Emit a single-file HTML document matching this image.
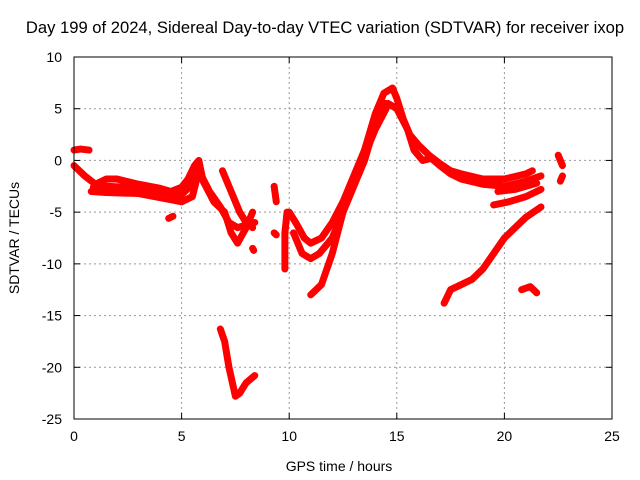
<!DOCTYPE html>
<html><head><meta charset="utf-8"><style>
body{margin:0;background:#fff}
svg{display:block;font-family:"Liberation Sans",sans-serif;font-size:14px}
</style></head><body>
<svg id="chart" width="640" height="480">
<text x="325" y="33" text-anchor="middle" style="font-size:16.6px">Day 199 of 2024, Sidereal Day-to-day VTEC variation (SDTVAR) for receiver ixop</text>
<text x="339" y="471" text-anchor="middle">GPS time / hours</text>
<text transform="translate(19,238) rotate(-90)" text-anchor="middle">SDTVAR / TECUs</text>
<g id="grid"></g>
<g id="series"></g>
<rect x="74" y="57" width="538" height="362" fill="none" stroke="#000"/>
<g id="ticks"></g>
</svg>
<script>
const xTicks=[0,5,10,15,20,25];
const yTicks=[10,5,0,-5,-10,-15,-20,-25];
const trackA=[[0,1],[0.3,1.1],[0.7,1]];
const trackB=[[0,-0.5],[0.5,-1.5],[1,-2.3],[1.5,-1.8],[2,-1.8],[3,-2.3],[4,-2.7],[4.5,-3],[5,-2.6],[5.3,-1.8],[5.6,-0.5],[5.8,0],[6,-2],[6.5,-4],[7,-5],[7.3,-7],[7.6,-8],[8,-6.5],[8.3,-5]];
const trackB3=[[0.9,-2.6],[1.5,-2.5],[2.5,-2.6],[3.5,-2.9],[4.5,-3.3],[5,-3.3],[5.4,-2.5],[5.7,-1.5]];
const trackB2=[[0.8,-3],[1.5,-3.1],[3,-3.2],[4.5,-3.8],[5,-4],[5.5,-3.5],[5.8,-1],[6.3,-3],[6.8,-4.5],[7.2,-6],[7.6,-6.5],[8.4,-6]];
const trackC=[[6.9,-1],[7.3,-3],[7.7,-5],[8,-6],[8.3,-6.5]];
const trackLow=[[6.8,-16.3],[7,-17.5],[7.2,-20],[7.5,-22.8],[7.7,-22.5],[8,-21.5],[8.4,-20.8]];
const trackD=[[10,-5],[10.3,-6],[10.7,-7.5],[11,-8],[11.5,-7.5],[12,-6],[12.5,-4],[13,-1.5],[13.5,1],[14,4.5],[14.4,6.5],[14.8,7],[15,6],[15.3,4],[15.6,2.5],[16,1.5],[16.5,0.5],[17,-0.3],[17.5,-1],[18,-1.3],[19,-1.8],[20,-1.8],[21,-1.3],[21.3,-1]];
const trackE=[[10.2,-7],[10.6,-9],[11,-9.5],[11.4,-9],[12,-7.5],[12.5,-5],[13,-2.5],[13.5,0],[14,3.5],[14.3,5.5],[14.6,5.5],[15,5],[15.5,3],[15.8,1],[16.2,0],[16.6,0.2],[17,-0.5],[17.5,-1.3],[18,-1.8],[19,-2.3],[20,-2.5],[21,-2],[21.7,-1.5]];
const trackF=[[11,-13],[11.5,-12],[12,-9],[12.5,-5],[13,-2],[13.5,0.5],[14,3],[14.5,5]];
const trackG=[[19.5,-4.3],[20.2,-4],[21,-3.5],[21.7,-2.8]];
const trackG2=[[19.7,-3],[20.5,-2.8],[21.5,-2.2]];
const trackH=[[17.2,-13.8],[17.5,-12.5],[18,-12],[18.5,-11.5],[19,-10.5],[19.5,-9],[20,-7.5],[20.5,-6.5],[21,-5.5],[21.7,-4.5]];
const trackI=[[20.8,-12.5],[21.2,-12.2],[21.5,-12.8]];
const trackJ=[[22.5,0.5],[22.7,-0.5]];
const trackJ2=[[22.6,-2],[22.7,-1.5]];
const trackK=[[9.9,-5],[9.8,-7],[9.8,-10.5]];
const trackL=[[9.3,-2.5],[9.4,-4]];
const trackM=[[4.4,-5.6],[4.6,-5.4]];
const trackN=[[8.3,-8.5],[8.35,-8.7]];
const trackO=[[9.3,-7],[9.4,-7.2]];
const tracks=[trackA,trackB,trackB3,trackB2,trackC,trackLow,trackD,trackE,trackF,trackG,trackG2,trackH,trackI,trackJ,trackJ2,trackK,trackL,trackM,trackN,trackO];
const X=v=>74+v*538/25;
const Y=v=>57+(10-v)*362/35;
const NS='http://www.w3.org/2000/svg';
const grid=document.getElementById('grid'),ticks=document.getElementById('ticks'),ser=document.getElementById('series');
function mk(t,a,p){const e=document.createElementNS(NS,t);for(const k in a)e.setAttribute(k,a[k]);p.appendChild(e);return e;}
xTicks.forEach(t=>{
 if(t>0&&t<25){const g=mk('line',{x1:X(t),x2:X(t),y1:57,y2:419,stroke:'#999','stroke-dasharray':'2,3'},grid);
 
 }
 const l=mk('text',{x:X(t),y:441,'text-anchor':'middle'},ticks);l.textContent=t;
 
 
 mk('line',{x1:X(t),x2:X(t),y1:419,y2:413,stroke:'#000'},ticks);
 mk('line',{x1:X(t),x2:X(t),y1:57,y2:63,stroke:'#000'},ticks);
});
yTicks.forEach(t=>{
 if(t<10&&t>-25){const g=mk('line',{x1:74,x2:612,y1:Y(t),y2:Y(t),stroke:'#999','stroke-dasharray':'2,3'},grid);
 
 }
 const l=mk('text',{x:62,y:Y(t)+5,'text-anchor':'end'},ticks);l.textContent=t;
 
 
 mk('line',{x1:74,x2:80,y1:Y(t),y2:Y(t),stroke:'#000'},ticks);
 mk('line',{x1:612,x2:606,y1:Y(t),y2:Y(t),stroke:'#000'},ticks);
});
tracks.forEach(tr=>{
 const p=mk('polyline',{points:tr.map(d=>X(d[0])+','+Y(d[1])).join(' '),fill:'none',stroke:'#f00','stroke-width':7,'stroke-linejoin':'round','stroke-linecap':'round'},ser);
 
 
});
</script>
</body></html>
